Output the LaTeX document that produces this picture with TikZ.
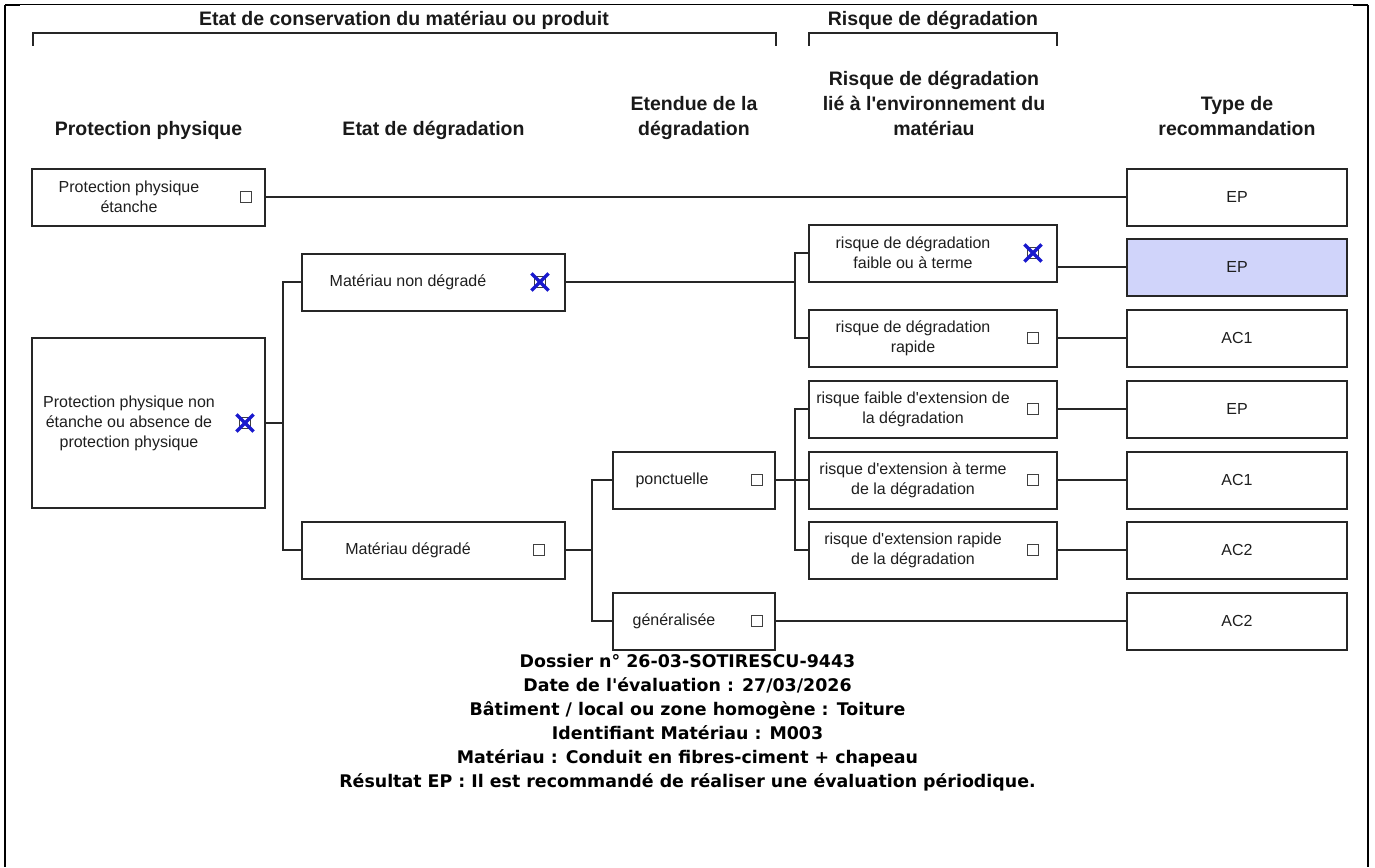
\documentclass[tikz,border=0pt]{standalone}
\usepackage{fontspec}
\setmainfont{Liberation Sans}[Ligatures=TeXOff]
\newfontfamily\dvfont{DejaVu Sans}[Ligatures=TeXOff]
\definecolor{shade}{RGB}{208,212,250}
\definecolor{xblue}{RGB}{25,25,205}
\definecolor{ink}{RGB}{30,30,30}
\newcommand\crossbox[1]{%
  \draw[xmk] ([shift={(-2.5,-2.5)}]#1.north west) -- ([shift={(2.5,2.5)}]#1.south east);
  \draw[xmk] ([shift={(-2.5,2.5)}]#1.south west) -- ([shift={(2.5,-2.5)}]#1.north east);}
\begin{document}
\begin{tikzpicture}[x=1pt,y=-1pt,
  box/.style={draw=black!85, line width=2pt, minimum height=57pt, inner sep=0pt},
  lbl/.style={font=\fontsize{16}{20}\selectfont, text=ink, align=center, inner sep=0pt},
  hdr/.style={font=\fontsize{19.5}{25}\selectfont\bfseries, text=black!90, inner sep=0pt, anchor=base},
  chk/.style={draw=black!75, line width=1.2pt, minimum size=11pt, inner sep=0pt},
  conn/.style={line width=2pt, draw=black!85},
  xmk/.style={line width=3.3pt, draw=xblue},
  info/.style={font=\dvfont\bfseries\fontsize{17.4}{24}\selectfont, inner sep=0pt, anchor=base}
]
\useasboundingbox (0,0) rectangle (1375,867);
% frame
\draw[line width=1pt] (5,5) -- (1368,5);
\draw[line width=2.2pt] (5,5) -- (20,5);
\draw[line width=2.2pt] (1353,5) -- (1368,5);
\draw[line width=2.4pt] (5,5) -- (5,867);
\draw[line width=2.4pt] (1368,5) -- (1368,867);

% top titles with brackets
\node[hdr] (tA) at (404,26) {Etat de conservation du matériau ou produit};
\draw[conn] (33,46) -- (33,33) -- (776,33) -- (776,46);
\node[hdr] (tB) at (933,26) {Risque de dégradation};
\draw[conn] (809,46) -- (809,33) -- (1057,33) -- (1057,46);

% column headers
\node[hdr] (h1) at (148.5,135) {Protection physique};
\node[hdr] (h2) at (433.5,135) {Etat de dégradation};
\node[hdr] (h3a) at (694,110) {Etendue de la};
\node[hdr] (h3b) at (694,135) {dégradation};
\node[hdr] (h4a) at (934,85) {Risque de dégradation};
\node[hdr] (h4b) at (934,110) {lié à l'environnement du};
\node[hdr] (h4c) at (934,135) {matériau};
\node[hdr] (h5a) at (1237,110) {Type de};
\node[hdr] (h5b) at (1237,135) {recommandation};

% column 1
\node[box, minimum width=233pt] (ppe) at (148.5,197) {};
\node[lbl] (ppeT) at (129,197) {Protection physique\\étanche};
\node[chk] (ppeC) at (246,197) {};
\node[box, minimum width=233pt, minimum height=170pt] (ppn) at (148.5,423) {};
\node[lbl] (ppnT) at (129,423) {Protection physique non\\étanche ou absence de\\protection physique};
\node[chk] (ppnC) at (245,423) {};
\crossbox{ppnC}

% column 2
\node[box, minimum width=263pt] (mnd) at (433.5,282) {};
\node[lbl] (mndT) at (408,282) {Matériau non dégradé};
\node[chk] (mndC) at (540,282) {};
\crossbox{mndC}
\node[box, minimum width=263pt] (md) at (433.5,550) {};
\node[lbl] (mdT) at (408,550) {Matériau dégradé};
\node[chk] (mdC) at (539,550) {};

% column 3
\node[box, minimum width=162pt] (pon) at (694,480) {};
\node[lbl] (ponT) at (672,480) {ponctuelle};
\node[chk] (ponC) at (757,480) {};
\node[box, minimum width=162pt] (gen) at (694,621) {};
\node[lbl] (genT) at (674,621) {généralisée};
\node[chk] (genC) at (757,621) {};

% column 4
\node[box, minimum width=248pt] (r1) at (933,253) {};
\node[lbl] (r1T) at (913,253) {risque de dégradation\\faible ou à terme};
\node[chk] (r1C) at (1033,253) {};
\crossbox{r1C}
\node[box, minimum width=248pt] (r2) at (933,338) {};
\node[lbl] (r2T) at (913,338) {risque de dégradation\\rapide};
\node[chk] (r2C) at (1033,338) {};
\node[box, minimum width=248pt] (r3) at (933,409) {};
\node[lbl] (r3T) at (913,409) {risque faible d'extension de\\la dégradation};
\node[chk] (r3C) at (1033,409) {};
\node[box, minimum width=248pt] (r4) at (933,480) {};
\node[lbl] (r4T) at (913,480) {risque d'extension à terme\\de la dégradation};
\node[chk] (r4C) at (1033,480) {};
\node[box, minimum width=248pt] (r5) at (933,550) {};
\node[lbl] (r5T) at (913,550) {risque d'extension rapide\\de la dégradation};
\node[chk] (r5C) at (1033,550) {};

% column 5
\node[box, minimum width=220pt] (t1) at (1237,197) {};
\node[lbl] (t1T) at (1237,197) {EP};
\node[box, minimum width=220pt, fill=shade] (t2) at (1237,267) {};
\node[lbl] (t2T) at (1237,267) {EP};
\node[box, minimum width=220pt] (t3) at (1237,338) {};
\node[lbl] (t3T) at (1237,338) {AC1};
\node[box, minimum width=220pt] (t4) at (1237,409) {};
\node[lbl] (t4T) at (1237,409) {EP};
\node[box, minimum width=220pt] (t5) at (1237,480) {};
\node[lbl] (t5T) at (1237,480) {AC1};
\node[box, minimum width=220pt] (t6) at (1237,550) {};
\node[lbl] (t6T) at (1237,550) {AC2};
\node[box, minimum width=220pt] (t7) at (1237,621) {};
\node[lbl] (t7T) at (1237,621) {AC2};

% junction columns
\coordinate (j1) at (283,0);
\coordinate (j2) at (592,0);
\coordinate (j3) at (795,0);

% connectors
\draw[conn] (ppe.east) -- (ppe.east -| t1.west);
\draw[conn] (ppn.east) -- (ppn.east -| j1);
\draw[conn] (mnd.west) -- (mnd.west -| j1) -- (md.west -| j1) -- (md.west);
\draw[conn] (mnd.east) -- (mnd.east -| j3);
\draw[conn] (r1.west) -- (r1.west -| j3) -- (r2.west -| j3) -- (r2.west);
\draw[conn] (r1.east |- t2.west) -- (t2.west);
\draw[conn] (r2.east) -- (t3.west);
\draw[conn] (r3.east) -- (t4.west);
\draw[conn] (r4.east) -- (t5.west);
\draw[conn] (r5.east) -- (t6.west);
\draw[conn] (md.east) -- (md.east -| j2);
\draw[conn] (pon.west) -- (pon.west -| j2) -- (gen.west -| j2) -- (gen.west);
\draw[conn] (pon.east) -- (r4.west);
\draw[conn] (r3.west) -- (r3.west -| j3) -- (r5.west -| j3) -- (r5.west);
\draw[conn] (gen.east) -- (gen.east -| t7.west);

% info block
\node[info] (i1) at (687.5,667) {Dossier n° 26-03-SOTIRESCU-9443};
\node[info] (i2) at (687.5,691) {Date de l'évaluation : 27/03/2026};
\node[info] (i3) at (687.5,715) {Bâtiment / local ou zone homogène : Toiture};
\node[info] (i4) at (687.5,739) {Identifiant Matériau : M003};
\node[info] (i5) at (687.5,763) {Matériau : Conduit en fibres-ciment + chapeau};
\node[info] (i6) at (687.5,787) {Résultat EP : Il est recommandé de réaliser une évaluation périodique.};
\end{tikzpicture}
\end{document}
